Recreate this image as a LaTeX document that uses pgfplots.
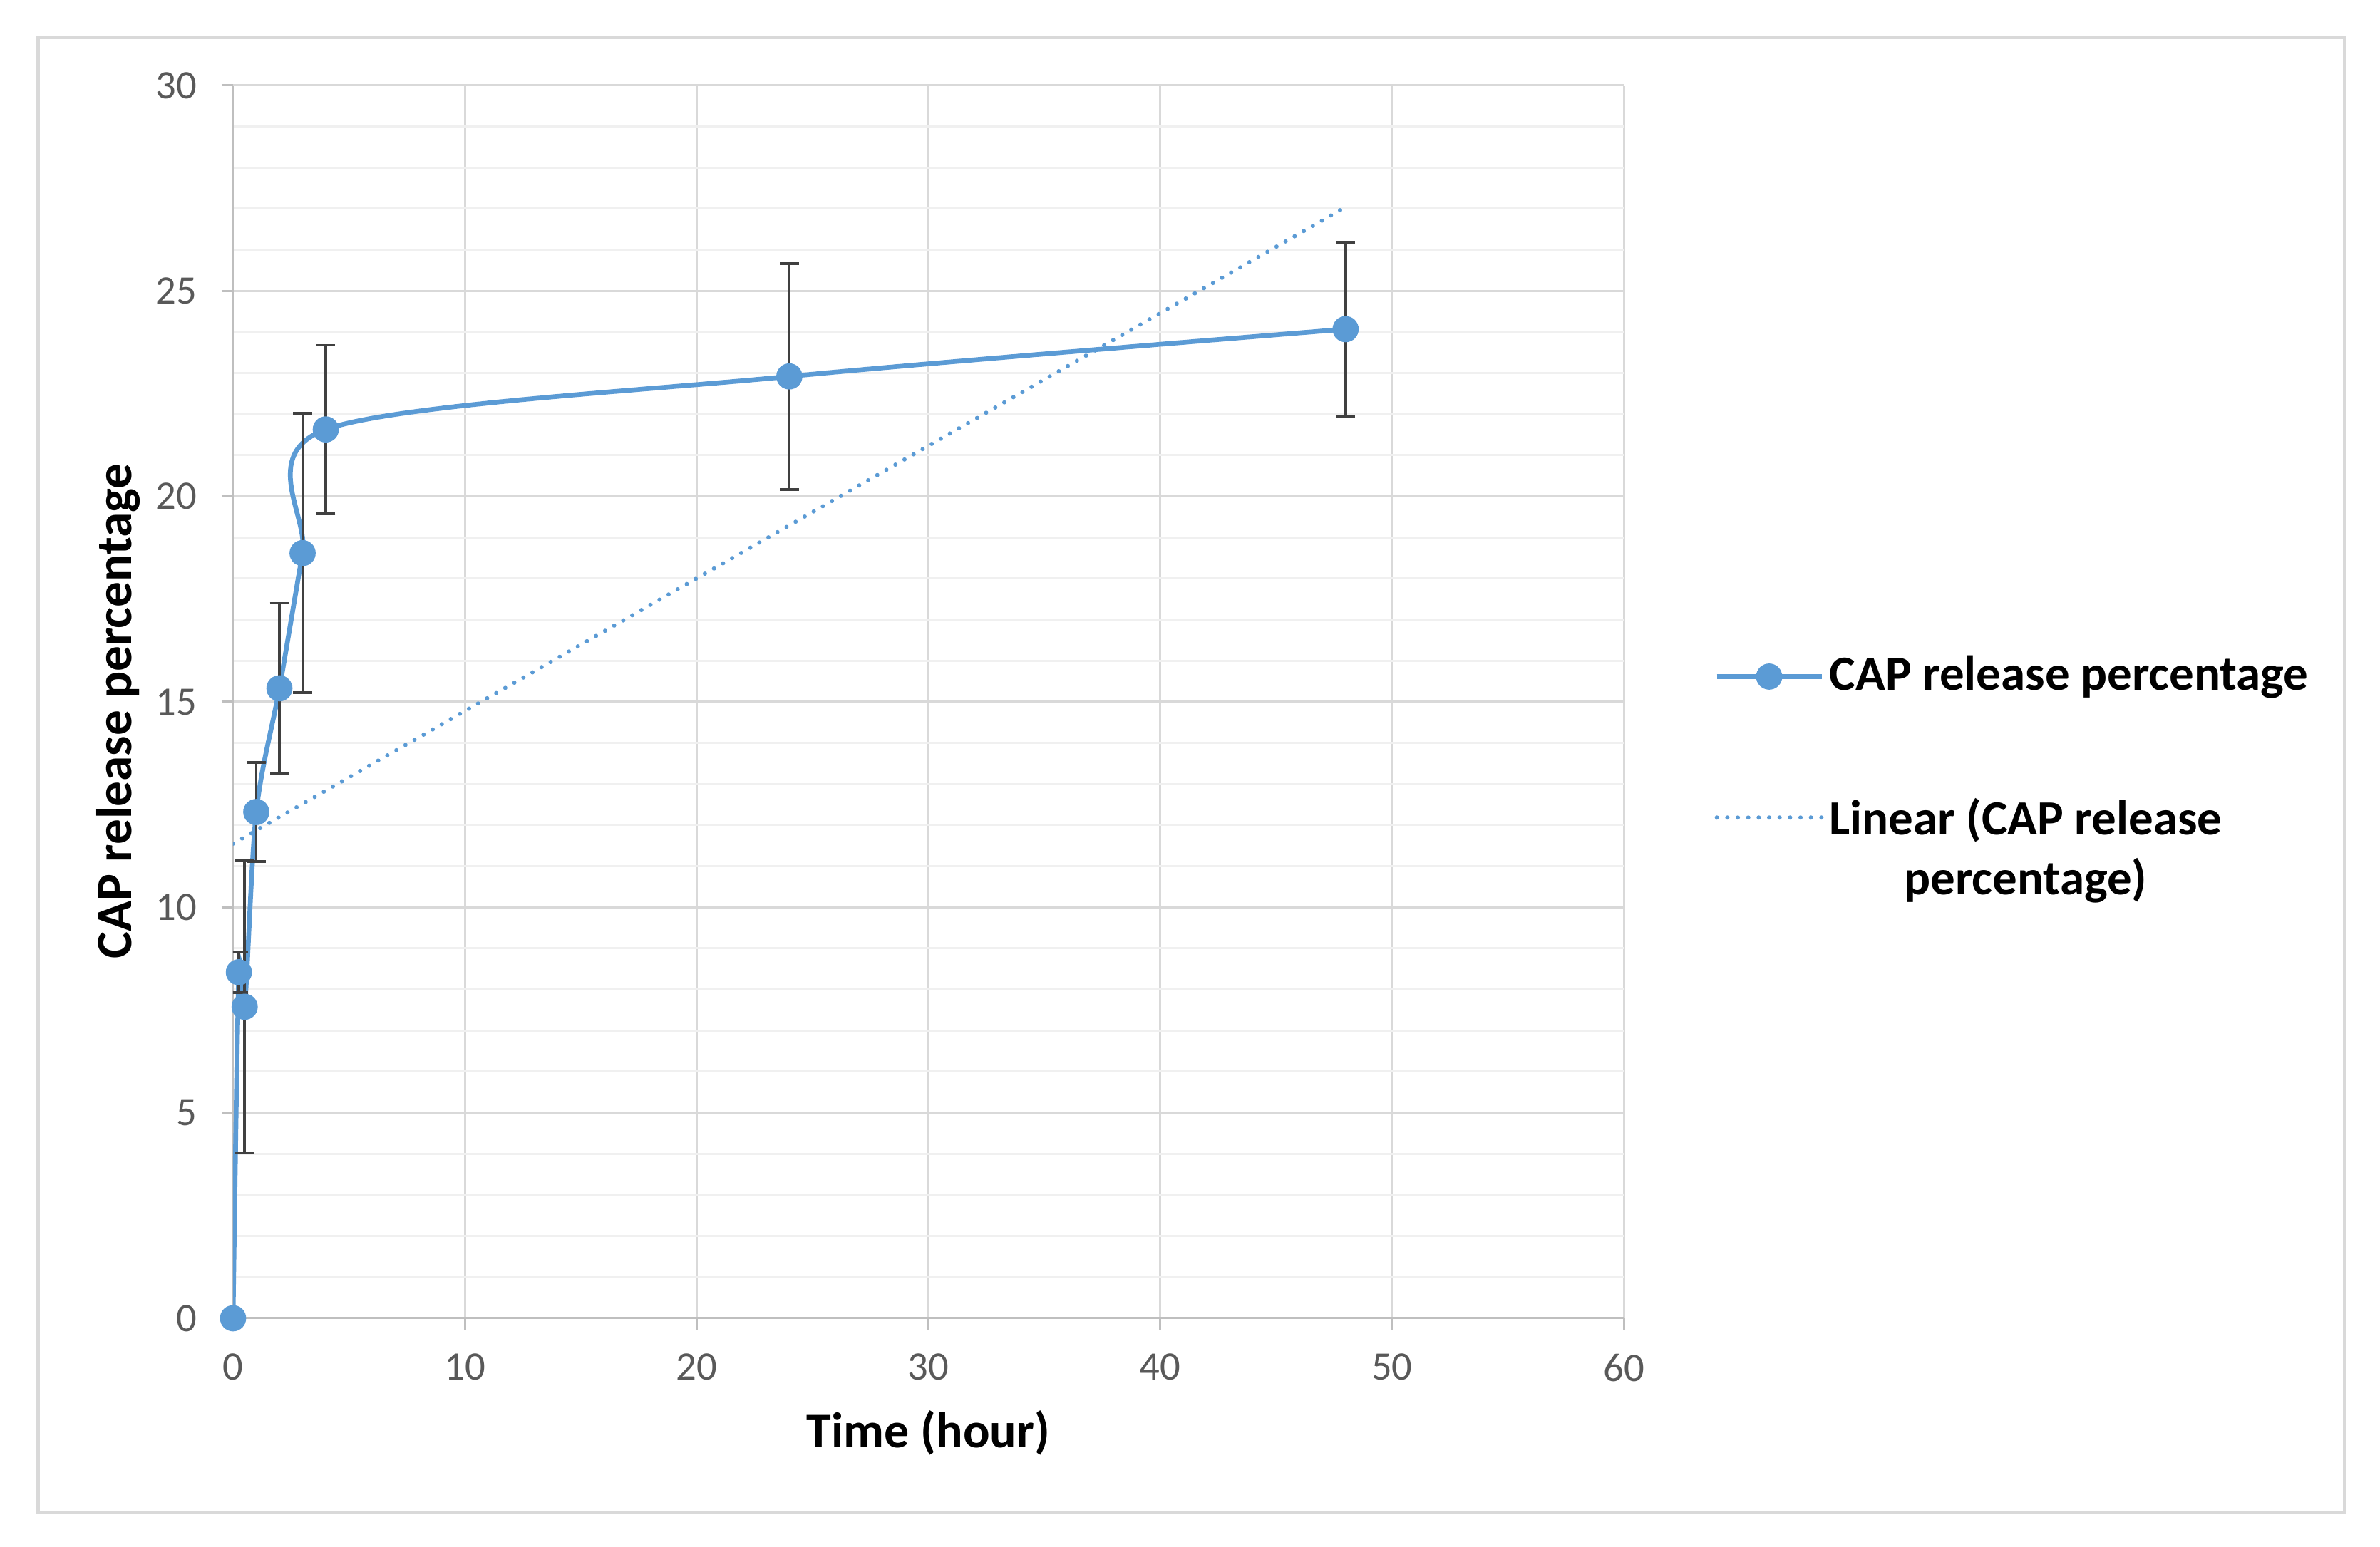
\documentclass[border=0pt]{standalone}
\usepackage{pgfplots}
\pgfplotsset{compat=1.18}
\usepackage{fontspec}
\setmainfont{Carlito}
\definecolor{excelblue}{HTML}{5B9BD5}
\definecolor{majgrid}{HTML}{D9D9D9}
\definecolor{mingrid}{HTML}{F0F0F0}
\definecolor{axgray}{HTML}{BFBFBF}
\definecolor{ticklab}{HTML}{595959}
\definecolor{errgray}{HTML}{404040}
\definecolor{framegray}{HTML}{D9D9D9}
\pgfplotstableread{
t     r      e
0     0      0
0.25  8.42   0.49
0.5   7.58   3.55
1     12.32  1.2
2     15.33  2.07
3     18.62  3.4
4     21.63  2.05
24    22.92  2.75
48    24.07  2.12
}\cap
\begin{document}
\begin{tikzpicture}
\path[use as bounding box, fill=white] (-49.05pt,-48.15pt) rectangle (451.8pt,277.5pt);
\draw[color=framegray, line width=0.75pt] (-40.95pt,-40.95pt) rectangle (444.3pt,269.55pt);
\begin{axis}[
  at={(0pt,0pt)}, anchor=south west,
  scale only axis, width=292.65pt, height=259.5pt,
  xmin=0, xmax=60, ymin=0, ymax=30,
  xtick={0,10,...,60}, ytick={0,5,...,30},
  minor y tick num=4,
  axis lines=left,
  axis line style={-, color=axgray, line width=0.45pt},
  tick style={color=axgray, line width=0.45pt},
  tick align=outside, major tick length=2.4pt, minor tick length=0pt,
  grid=both,
  major grid style={color=majgrid, line width=0.45pt},
  minor grid style={color=mingrid, line width=0.45pt},
  /pgf/number format/assume math mode=true,
  ticklabel style={font=\fontsize{8.5}{10.2}\selectfont, color=ticklab},
  xticklabel style={yshift=-1.6pt},
  yticklabel style={xshift=-1.7pt},
  xlabel={Time (hour)},
  ylabel={CAP release percentage},
  xlabel style={font=\fontsize{10.5}{12.6}\selectfont\bfseries, at={(axis description cs:0.5,-0.1052)}, anchor=base},
  ylabel style={font=\fontsize{10.7}{12.8}\selectfont\bfseries, at={(axis description cs:-0.0728,0.4925)}, anchor=base},
  legend image code/.code={\draw[mark repeat=2,mark phase=2,#1] plot coordinates {(0pt,0pt) (11pt,0pt) (22pt,0pt)};},
  legend style={at={(axis description cs:1.0646,0.5428)}, anchor=north west, draw=none, fill=none,
     row sep=17.8pt, inner sep=0pt, font=\fontsize{10.35}{12.4}\selectfont\bfseries, nodes={inner sep=1.2pt}},
  legend cell align=left,
]
\addplot[color=excelblue, line width=1pt, smooth, mark=*, mark size=2.25pt,
  error bars/.cd, y dir=both, y explicit,
  error bar style={color=errgray, line width=0.55pt},
  error mark options={rotate=90, mark size=2pt, color=errgray, line width=0.55pt}]
  table[x=t, y=r, y error=e] {\cap};
\addlegendentry{CAP release percentage}
\addplot[color=excelblue, line width=0.9pt, line cap=round, dash pattern=on 0pt off 2.2pt]
  coordinates {(0,11.55) (48,27.04)};
\addlegendentry{\begin{tabular}[t]{@{}c@{}}Linear (CAP release\\[0.2pt] percentage)\end{tabular}}
\end{axis}
\end{tikzpicture}
\end{document}
